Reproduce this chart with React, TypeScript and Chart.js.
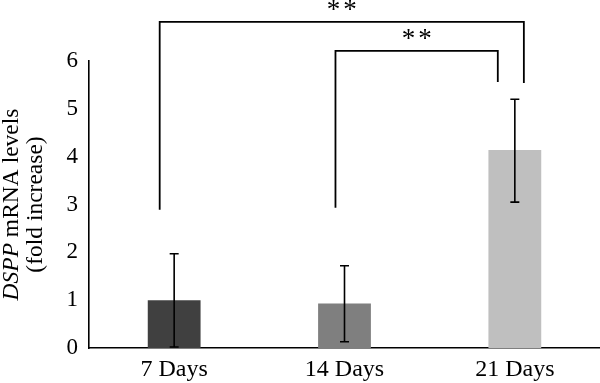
import { useEffect, useRef } from 'react';
import { Chart, registerables } from 'chart.js';

Chart.register(...registerables);

const categories = ['7 Days', '14 Days', '21 Days'];
const means = [1.0, 0.93, 4.14];
const errLow = [0.02, 0.13, 3.05];
const errHigh = [1.97, 1.72, 5.2];
const barColors = ['#404040', '#7f7f7f', '#bfbfbf'];
const yMin = 0;
const yMax = 6;
const yStep = 1;
// significance brackets: category-index positions of legs and value heights
const bracketFrom = [-0.085, 0.947];
const bracketTo = [2.053, 1.9];
const bracketTop = [6.82, 6.21];
const bracketLeftEnd = [2.89, 2.93];
const bracketRightEnd = [5.54, 5.56];
const bracketLabels = ['**', '**'];
const titleItalic = 'DSPP';
const titleRest = ' mRNA levels';
const titleLine2 = '(fold increase)';

const FONT = '"Liberation Serif", "DejaVu Serif", serif';

const overlayPlugin = {
  id: 'overlay',
  afterDatasetsDraw(chart: any) {
    const ctx = chart.ctx;
    const x = chart.scales.x;
    const y = chart.scales.y;
    ctx.save();
    ctx.strokeStyle = '#000';
    ctx.lineWidth = 1.6;
    for (let i = 0; i < categories.length; i++) {
      const cx = x.getPixelForValue(i);
      const yl = y.getPixelForValue(errLow[i]);
      const yh = y.getPixelForValue(errHigh[i]);
      ctx.beginPath();
      ctx.moveTo(cx, yl);
      ctx.lineTo(cx, yh);
      ctx.moveTo(cx - 4.5, yl);
      ctx.lineTo(cx + 4.5, yl);
      ctx.moveTo(cx - 4.5, yh);
      ctx.lineTo(cx + 4.5, yh);
      ctx.stroke();
    }
    ctx.restore();
  },
  afterDraw(chart: any) {
    const ctx = chart.ctx;
    const x = chart.scales.x;
    const y = chart.scales.y;
    ctx.save();
    ctx.strokeStyle = '#000';
    ctx.lineWidth = 1.8;
    ctx.fillStyle = '#000';
    for (let i = 0; i < bracketFrom.length; i++) {
      const x1 = x.getPixelForValue(0) + (x.getPixelForValue(1) - x.getPixelForValue(0)) * bracketFrom[i];
      const x2 = x.getPixelForValue(0) + (x.getPixelForValue(1) - x.getPixelForValue(0)) * bracketTo[i];
      const yt = y.getPixelForValue(bracketTop[i]);
      ctx.beginPath();
      ctx.moveTo(x1, y.getPixelForValue(bracketLeftEnd[i]));
      ctx.lineTo(x1, yt);
      ctx.lineTo(x2, yt);
      ctx.lineTo(x2, y.getPixelForValue(bracketRightEnd[i]));
      ctx.stroke();
      ctx.font = `27px ${FONT}`;
      (ctx as any).letterSpacing = '3px';
      ctx.textAlign = 'center';
      ctx.textBaseline = 'middle';
      ctx.fillText(bracketLabels[i], (x1 + x2) / 2 + 1.5, yt - 11);
      (ctx as any).letterSpacing = '0px';
    }
    // y-axis title
    const cy = (chart.chartArea.top + chart.chartArea.bottom) / 2;
    ctx.translate(12, cy);
    ctx.rotate(-Math.PI / 2);
    ctx.textBaseline = 'middle';
    ctx.textAlign = 'left';
    const fItal = `italic 23.5px ${FONT}`;
    const fNorm = `23.5px ${FONT}`;
    ctx.font = fItal;
    const w1 = ctx.measureText(titleItalic).width;
    ctx.font = fNorm;
    const w2 = ctx.measureText(titleRest).width;
    const start = -(w1 + w2) / 2;
    ctx.font = fItal;
    ctx.fillText(titleItalic, start, 0);
    ctx.font = fNorm;
    ctx.fillText(titleRest, start + w1, 0);
    ctx.textAlign = 'center';
    ctx.fillText(titleLine2, 0, 24);
    ctx.restore();
  },
};

export default function App() {
  const ref = useRef<HTMLCanvasElement>(null);
  useEffect(() => {
    document.body.style.margin = '0';
    const chart = new Chart(ref.current!, {
      type: 'bar',
      data: {
        labels: categories,
        datasets: [
          {
            data: means,
            backgroundColor: barColors,
            borderWidth: 0,
            barPercentage: 0.31,
            categoryPercentage: 1,
          },
        ],
      },
      options: {
        animation: false,
        responsive: true,
        maintainAspectRatio: false,
        layout: { padding: { top: 61, left: 0, right: 0, bottom: 0 } },
        plugins: { legend: { display: false }, tooltip: { enabled: false } },
        scales: {
          x: {
            grid: { display: false, drawTicks: false },
            border: { display: true, color: '#000', width: 1.6 },
            ticks: { color: '#000', font: { family: FONT, size: 24 }, padding: 7 },
            afterFit: (s: any) => { s.height = 35; },
          },
          y: {
            min: yMin,
            max: yMax,
            grid: { display: false, drawTicks: false },
            border: { display: true, color: '#000', width: 1.6 },
            ticks: { stepSize: yStep, color: '#000', font: { family: FONT, size: 23 }, padding: 11 },
            afterFit: (s: any) => { s.width = 89; },
          },
        },
      },
      plugins: [overlayPlugin],
    });
    return () => chart.destroy();
  }, []);
  return (
    <div style={{ position: 'absolute', left: 0, top: 0, width: 600, height: 383 }}>
      <canvas ref={ref} />
    </div>
  );
}
